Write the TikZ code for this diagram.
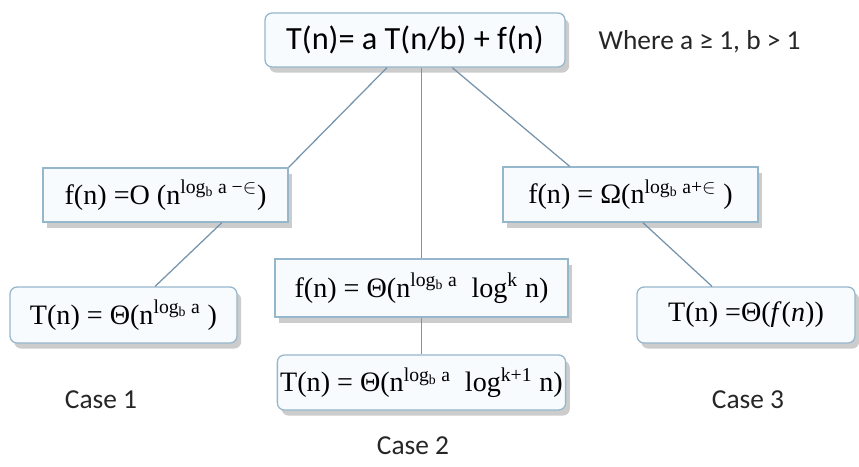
\documentclass[tikz,border=0pt]{standalone}
\usepackage{fontspec}
\setmainfont{Carlito}
\newfontfamily\formulafont{Liberation Serif}
\usepackage{tikz}
\usetikzlibrary{positioning,calc,shadows}

\definecolor{boxedge}{RGB}{150,182,204}
\definecolor{boxfill}{RGB}{247,251,253}
\definecolor{linkblue}{RGB}{118,148,172}

\newcommand{\nlogb}[1]{n\textsuperscript{log\textsubscript{b} a#1}}

\begin{document}
\begin{tikzpicture}[
			box/.style={
				draw=boxedge,
				fill=boxfill,
				line width=0.9pt,
				inner sep=2pt,
				font=\formulafont\fontsize{20}{23}\selectfont,
				drop shadow={shadow xshift=3pt,shadow yshift=-4pt,opacity=0.2,fill=black}
			},
			rbox/.style={box,rounded corners=5pt},
			link/.style={draw=linkblue,line width=0.9pt},
			casetext/.style={font=\fontsize{19.5}{23}\selectfont,text=black!85}
			]
			
			\useasboundingbox (0,0) rectangle (21.475,11.65);
			
			\node[rbox,font=\fontsize{23}{27}\selectfont,minimum width=7.5cm,minimum height=1.35cm] (master) at (10.375,10.65) {T(n)= a T(n/b) + f(n)};
			\node[casetext] (cond) at (17.49,10.6) {Where a ≥ 1, b > 1};
			
			\node[box,minimum width=6.125cm,minimum height=1.35cm] (f1) at (4.1375,6.775) {f(n) =O (\nlogb{ −$\in$})};
			\node[box,minimum width=7.325cm,minimum height=1.45cm] (f2) at (10.5375,4.45) {f(n) = Θ(\nlogb{}\ \ log\textsuperscript{k} n)};
			\node[box,minimum width=6.375cm,minimum height=1.375cm] (f3) at (15.7625,6.7875) {f(n) = Ω(\nlogb{+$\in$} )};
			
			\node[rbox,minimum width=5.675cm,minimum height=1.4cm] (T1) at (3.0875,3.775) {T(n) = Θ(\nlogb{} )};
			\node[rbox,minimum width=7.175cm,minimum height=1.375cm] (T2) at (10.5375,2.0875) {T(n) = Θ(\nlogb{}\ \ log\textsuperscript{k+1} n)};
			\node[rbox,minimum width=5.45cm,minimum height=1.4cm] (T3) at (18.65,3.775) {T(n) =Θ(\textit{f}(\textit{n}))};
			
			\node[casetext] (case1) at (2.525,1.65) {Case 1};
			\node[casetext] (case2) at (10.325,0.5) {Case 2};
			\node[casetext] (case3) at (18.7,1.65) {Case 3};
			
			\draw[link] ($(master.south)+(-0.7,0)$)--(f1.north east);
			\draw[link] (master.south -| f2.north)--(f2.north);
			\draw[link] ($(master.south)+(0.93,0)$)--($(f3.north)+(-1.52,0)$);
			
			\draw[link] ($(f1.south)+(1.41,0)$)--($(T1.north)+(0.79,0)$);
			\draw[link] (f2.south)--(T2.north);
			\draw[link] ($(f3.south)+(0.31,0)$)--($(T3.north)+(-0.85,0)$);
			
		\end{tikzpicture}
\end{document}
